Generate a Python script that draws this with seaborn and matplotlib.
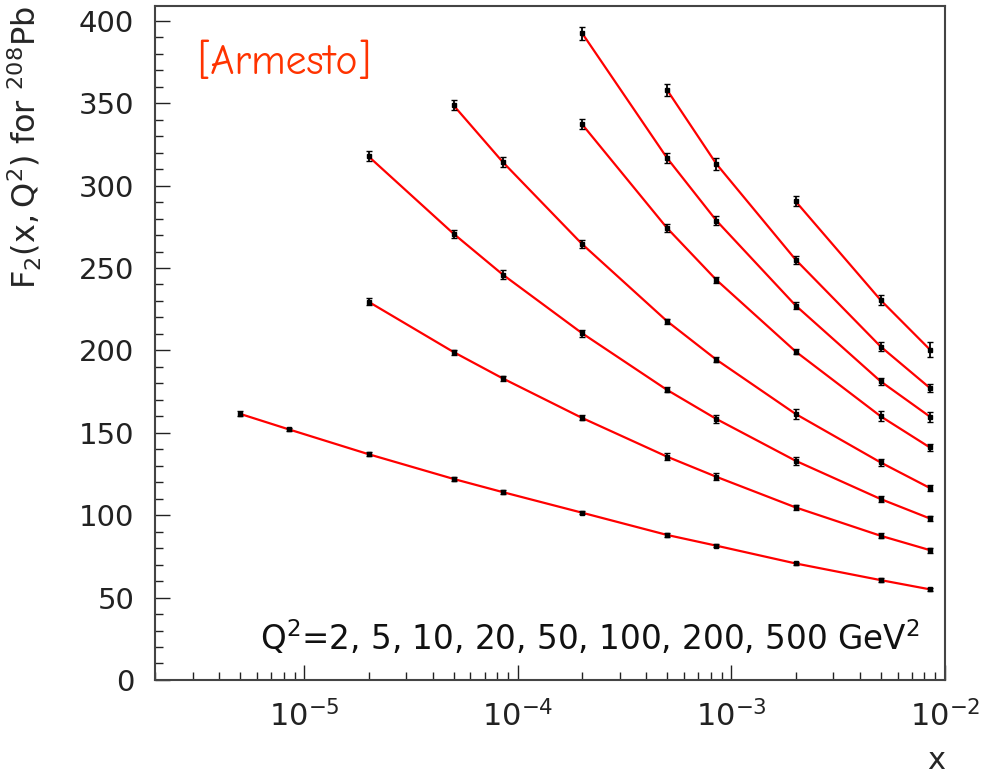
import numpy as np
import pandas as pd
import matplotlib
matplotlib.use("Agg")
import matplotlib.pyplot as plt
import seaborn as sns

# x grid shared by all Q^2 curves
x_grid = [5e-6, 8.5e-6, 2e-5, 5e-5, 8.5e-5, 2e-4, 5e-4, 8.5e-4, 2e-3, 5e-3, 8.5e-3]

q2_values = [2, 5, 10, 20, 50, 100, 200, 500]
# index into x_grid where each curve starts
start_idx = [0, 2, 2, 3, 5, 5, 6, 8]

f2_q2_2 = [161.5, 152.0, 137.0, 122.0, 114.0, 101.5, 88.0, 81.5, 70.7, 60.6, 55.0]
f2_q2_5 = [229.5, 199.0, 183.0, 159.0, 135.5, 123.3, 104.7, 87.5, 78.8]
f2_q2_10 = [317.7, 270.8, 246.0, 210.4, 176.0, 158.4, 133.0, 109.8, 98.0]
f2_q2_20 = [348.7, 314.3, 264.5, 217.7, 194.4, 161.4, 132.0, 116.5]
f2_q2_50 = [337.2, 274.2, 242.8, 199.3, 160.0, 141.1]
f2_q2_100 = [392.5, 316.7, 278.8, 227.2, 181.2, 159.8]
f2_q2_200 = [358.0, 313.2, 255.0, 202.3, 177.2]
f2_q2_500 = [290.4, 230.5, 200.5]

err_q2_2 = [1.5, 1.2, 1.2, 1.2, 1.0, 1.0, 1.0, 1.0, 1.0, 1.0, 1.0]
err_q2_5 = [2.0, 1.5, 1.5, 1.5, 2.0, 2.0, 1.5, 1.5, 1.5]
err_q2_10 = [3.0, 2.5, 2.5, 2.0, 1.5, 2.5, 2.5, 2.0, 1.5]
err_q2_20 = [3.0, 3.0, 2.5, 1.5, 1.5, 3.0, 2.0, 2.0]
err_q2_50 = [3.0, 2.5, 2.0, 1.5, 3.0, 2.0]
err_q2_100 = [4.0, 3.0, 3.0, 2.0, 2.0, 3.0]
err_q2_200 = [3.5, 3.5, 2.5, 2.5, 2.5]
err_q2_500 = [3.0, 3.0, 4.5]

f2_series = [f2_q2_2, f2_q2_5, f2_q2_10, f2_q2_20, f2_q2_50, f2_q2_100, f2_q2_200, f2_q2_500]
err_series = [err_q2_2, err_q2_5, err_q2_10, err_q2_20, err_q2_50, err_q2_100, err_q2_200, err_q2_500]

rows = []
for q2, i0, f2, err in zip(q2_values, start_idx, f2_series, err_series):
    for x, y, e in zip(x_grid[i0:], f2, err):
        rows.append({"Q2": q2, "x": x, "F2": y, "err": e})
df = pd.DataFrame(rows)

sns.set_theme(style="ticks")
plt.rcParams["font.family"] = ["DejaVu Sans"]
plt.rcParams["mathtext.fontset"] = "custom"
plt.rcParams["mathtext.rm"] = "DejaVu Sans"
plt.rcParams["mathtext.it"] = "DejaVu Sans"
plt.rcParams["mathtext.default"] = "regular"

fig = plt.figure(figsize=(9.83, 7.78), dpi=100)
ax = fig.add_axes([0.1577, 0.126, 0.8036, 0.8663])

sns.lineplot(data=df, x="x", y="F2", units="Q2", estimator=None, color="red",
             linewidth=1.6, ax=ax, legend=False)
for q2, grp in df.groupby("Q2"):
    ax.errorbar(grp["x"], grp["F2"], yerr=grp["err"], fmt="s", color="black",
                markersize=3.5, elinewidth=1.3, capsize=2.5, capthick=1.0, zorder=3)

ax.set_xscale("log")
ax.set_xlim(2e-6, 1e-2)
ax.set_ylim(0, 409)
ax.set_yticks(np.arange(0, 401, 50))
ax.set_yticks(np.arange(0, 409, 10), minor=True)
ax.set_xticks([1e-5, 1e-4, 1e-3, 1e-2])
ax.xaxis.set_minor_locator(matplotlib.ticker.LogLocator(base=10, subs=np.arange(2, 10)))
ax.xaxis.set_minor_formatter(matplotlib.ticker.NullFormatter())

ax.tick_params(which="both", direction="in", top=False, right=False, colors="#222222")
ax.tick_params(which="major", length=11, width=1.0, labelsize=21, pad=15)
ax.tick_params(which="minor", length=5.5, width=1.0)
ax.tick_params(axis="x", which="major", labelsize=22, pad=14)

for s in ax.spines.values():
    s.set_color("#444444")
    s.set_linewidth(1.5)

ax.set_xlabel("x", fontsize=22, loc="right", labelpad=10)
ax.set_ylabel(r"$F_2(x,Q^2)$ for $^{208}$Pb", fontsize=23, loc="top")
ax.yaxis.set_label_coords(-0.14, 1.0)

ax.text(0.053, 0.917, "[Armesto]", transform=ax.transAxes, color="#ff3300",
        fontsize=30, ha="left", va="center", family=["Comic Neue", "DejaVu Sans"])
ax.text(0.968, 0.045, r"$Q^2$=2, 5, 10, 20, 50, 100, 200, 500 GeV$^2$",
        transform=ax.transAxes, fontsize=23.5, ha="right", va="baseline", color="#111111")

fig.savefig("out.png", dpi=100)
